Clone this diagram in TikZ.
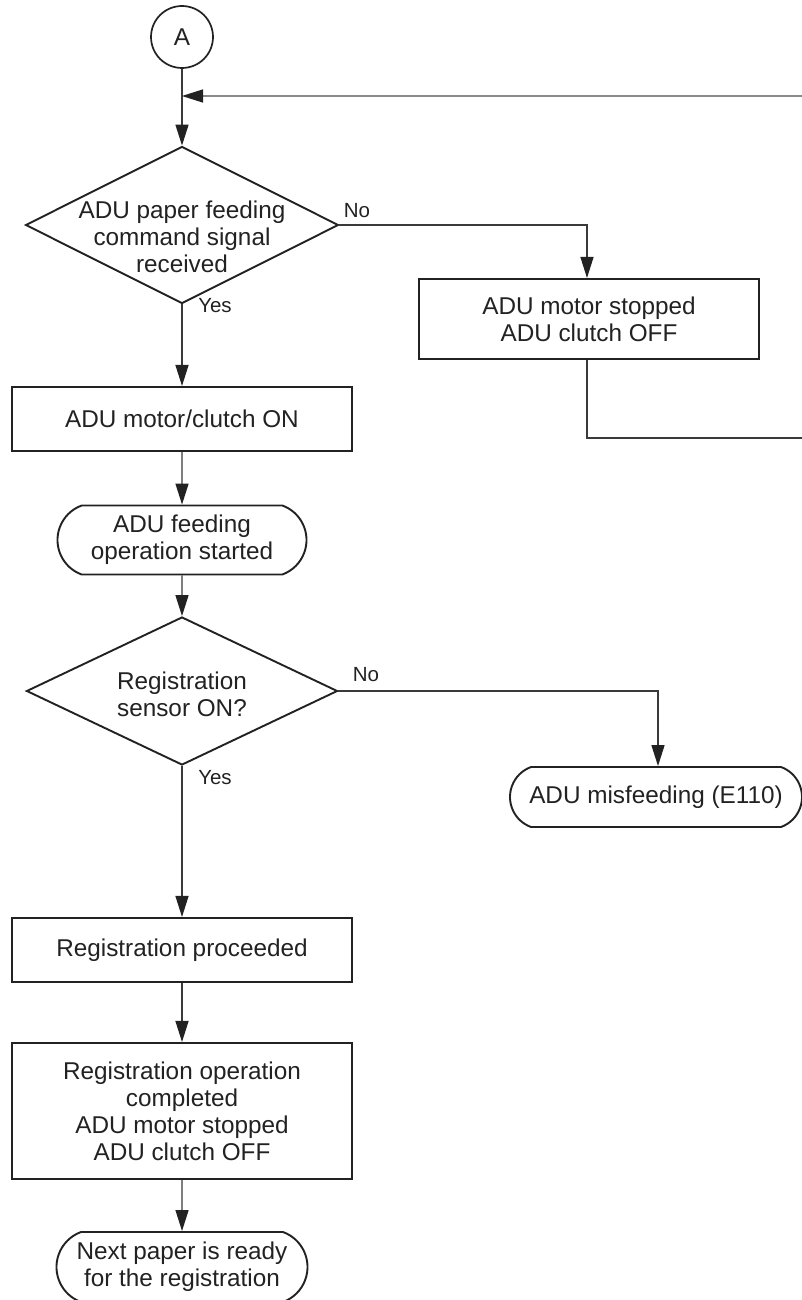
\documentclass[tikz,border=0pt]{standalone}
\usepackage{fontspec}
\setmainfont{Liberation Sans}
\usetikzlibrary{arrows.meta,shapes.geometric,shapes.misc}
\definecolor{ink}{HTML}{222222}
\definecolor{wire}{HTML}{3A3A3A}
\definecolor{back}{HTML}{8A8A8A}

\begin{document}
\begin{tikzpicture}[x=1pt,y=-1pt,
  every node/.style={font=\fontsize{24.3}{27}\selectfont,text=ink,align=center},
  box/.style={draw=ink,line width=2.1pt,rectangle,minimum width=340pt,inner sep=0pt},
  term/.style={draw=ink,line width=1.9pt,rounded rectangle,rounded rectangle arc length=140,inner sep=0pt},
  dec/.style={draw=ink,line width=1.9pt,diamond,minimum width=313pt,minimum height=157pt,inner sep=0pt},
  conn/.style={draw=wire,line width=1.4pt,-{Triangle[length=21pt,width=13pt,color=ink]}},
  tag/.style={font=\fontsize{20.5}{24}\selectfont,inner sep=0pt}]
\path[use as bounding box,fill=white](0,0)rectangle(802,1300);

\node[draw=ink,circle,line width=1.7pt,minimum size=62pt,inner sep=0pt](A)at(182,37){A};
\node[dec](d1)at(182,225){};
\node(d1t)at(182,237){ADU paper feeding\\command signal\\received};
\node[box,minimum height=80pt,minimum width=340pt](stop)at(589,319){ADU motor stopped\\ADU clutch OFF};
\node[box,minimum height=64pt](on)at(182,419){ADU motor/clutch ON};
\node[term,minimum width=249pt,minimum height=69pt](start)at(182,540){ADU feeding\\operation started};
\node[dec,minimum width=311pt,minimum height=148pt](d2)at(182,691){};
\node(d2t)at(182,694){Registration\\sensor ON?};
\node[term,minimum width=292pt,minimum height=60pt](err)at(656,797){ADU misfeeding (E110)};
\node[box,minimum height=64pt](reg)at(182,950){Registration proceeded};
\node[box,minimum height=136pt](done)at(182,1111){Registration operation\\completed\\ADU motor stopped\\ADU clutch OFF};
\node[term,minimum width=251pt,minimum height=70pt](next)at(182,1267){Next paper is ready\\for the registration};

\node[tag](no1)at(357,211){No};
\node[tag](yes1)at(215,306){Yes};
\node[tag](no2)at(366,675){No};
\node[tag](yes2)at(215,778){Yes};

\coordinate(j1)at(182,96);
\coordinate(fb)at(802,96);
\coordinate(fr)at(802,438);

\draw[conn](A)--(d1.north);
\draw[conn,draw=back](fb)--(j1);
\draw[conn](d1.east)-|([xshift=-2pt]stop.north);
\draw[draw=wire,line width=1.4pt]([xshift=-2pt]stop.south)|-(fr);
\draw[conn](d1.south)--(on.north);
\draw[conn](on)--(start);
\draw[conn](start)--(d2.north);
\draw[conn](d2.east)-|([xshift=2pt]err.north);
\draw[conn](d2.south)--(reg.north);
\draw[conn](reg)--(done);
\draw[conn](done)--(next);
\end{tikzpicture}
\end{document}
